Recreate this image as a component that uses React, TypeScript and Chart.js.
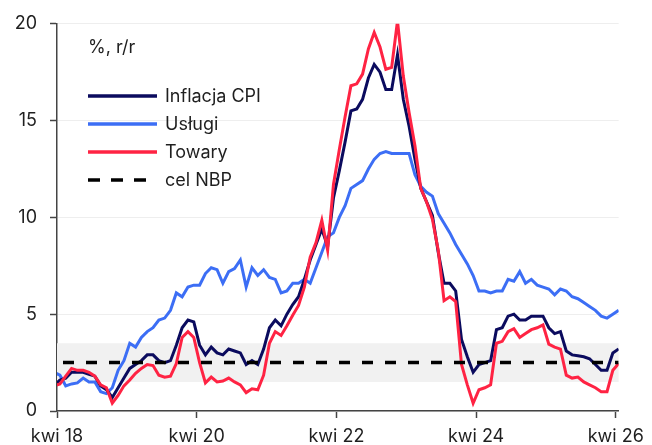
import React, { useEffect, useRef } from 'react';
import { Chart, registerables } from 'chart.js';

Chart.register(...registerables);

// ---- data (monthly, y/y %, from March 2018 to April 2026; each month plotted mid-month) ----
const START_YEAR = 2018;
const START_MONTH = 2; // March, 0-based
const AXIS_START_OFFSET = 1; // axis starts at April 2018
const monthNames = ['sty', 'lut', 'mar', 'kwi', 'maj', 'cze', 'lip', 'sie', 'wrz', 'paź', 'lis', 'gru'];

const cpi = [
  1.3,
  1.6, 1.7, 2.0, 2.0, 2.0, 1.9, 1.8, 1.3, 1.1,
  0.7, 1.2, 1.7, 2.2, 2.4, 2.6, 2.9, 2.9, 2.6, 2.5, 2.6, 3.4,
  4.3, 4.7, 4.6, 3.4, 2.9, 3.3, 3.0, 2.9, 3.2, 3.1, 3.0, 2.4,
  2.6, 2.4, 3.2, 4.3, 4.7, 4.4, 5.0, 5.5, 5.9, 6.8, 7.8, 8.6,
  9.4, 8.5, 11.0, 12.4, 13.9, 15.5, 15.6, 16.1, 17.2, 17.9, 17.5, 16.6,
  16.6, 18.4, 16.1, 14.7, 13.0, 11.5, 10.8, 10.1, 8.2, 6.6, 6.6, 6.2,
  3.7, 2.8, 2.0, 2.4, 2.5, 2.6, 4.2, 4.3, 4.9, 5.0, 4.7, 4.7,
  4.9, 4.9, 4.9, 4.3, 4.0, 4.1, 3.1, 2.9, 2.85, 2.8, 2.7, 2.4,
  2.1, 2.1, 3.0, 3.2,
];

const services = [
  2.0,
  1.85, 1.3, 1.4, 1.45, 1.7, 1.5, 1.5, 1.0, 0.9, 1.2, 2.1, 2.6,
  3.5, 3.3, 3.8, 4.1, 4.3, 4.7, 4.8, 5.2, 6.1, 5.9, 6.4, 6.5,
  6.5, 7.1, 7.4, 7.3, 6.6, 7.2, 7.35, 7.8, 6.4, 7.4, 7.0, 7.3,
  6.9, 6.8, 6.1, 6.2, 6.6, 6.6, 6.8, 6.6, 7.4, 8.2, 9.0, 9.2,
  10.0, 10.6, 11.5, 11.7, 11.9, 12.5, 13.0, 13.3, 13.4, 13.3, 13.3, 13.3,
  13.3, 12.2, 11.6, 11.3, 11.1, 10.2, 9.7, 9.2, 8.6, 8.1, 7.6, 7.0,
  6.2, 6.2, 6.1, 6.2, 6.2, 6.8, 6.7, 7.2, 6.6, 6.8, 6.5, 6.4,
  6.3, 6.0, 6.3, 6.2, 5.9, 5.8, 5.6, 5.4, 5.2, 4.9, 4.8, 5.0, 5.2,
];

const goods = [
  1.3,
  1.4, 1.8, 2.2, 2.1, 2.1, 2.0, 1.8, 1.35, 1.2, 0.4, 0.8, 1.3,
  1.6, 1.95, 2.2, 2.4, 2.35, 1.85, 1.75, 1.8, 2.45, 3.8, 4.1, 3.8,
  2.5, 1.45, 1.75, 1.5, 1.55, 1.7, 1.5, 1.35, 0.95, 1.15, 1.1, 1.85,
  3.5, 4.1, 3.9, 4.4, 4.95, 5.45, 6.4, 7.95, 8.7, 9.85, 8.3, 11.7,
  13.5, 15.2, 16.8, 16.9, 17.4, 18.7, 19.55, 18.8, 17.65, 17.75, 20.15, 17.3,
  15.4, 13.7, 11.5, 10.8, 9.9, 8.3, 5.7, 5.9, 5.65, 2.4, 1.35, 0.4,
  1.1, 1.2, 1.35, 3.5, 3.6, 4.1, 4.25, 3.8, 4.0, 4.2, 4.3, 4.45,
  3.45, 3.3, 3.2, 1.85, 1.7, 1.75, 1.5, 1.35, 1.2, 1.0, 1.0, 2.1, 2.45,
];

const nbpTarget = 2.5;
const bandLow = 1.5;
const bandHigh = 3.5;
const yMin = 0;
const yMax = 20;
const yStep = 5;
const xTickMonths = [0, 24, 48, 72, 96]; // months after April 2018
const xMax = 96.5;
const unitLabel = '%, r/r';
const seriesNames = ['Inflacja CPI', 'Usługi', 'Towary', 'cel NBP'];

// month position of each observation (mid-month), relative to April 2018
const xPos = cpi.map((_, i) => i - AXIS_START_OFFSET + 0.5);

const monthLabel = (m: number) => {
  const t = START_MONTH + AXIS_START_OFFSET + m;
  const y = START_YEAR + Math.floor(t / 12);
  return monthNames[t % 12] + ' ' + String(y % 100).padStart(2, '0');
};

const toPoints = (arr: number[]) => arr.map((v, i) => ({ x: xPos[i], y: v }));

const FONT = 'Inter';
const TEXT = '#1f1f1f';

const bandPlugin = {
  id: 'nbpBand',
  beforeDatasetsDraw(chart: any) {
    const { ctx, chartArea, scales } = chart;
    const y1 = scales.y.getPixelForValue(bandHigh);
    const y2 = scales.y.getPixelForValue(bandLow);
    ctx.save();
    ctx.fillStyle = '#f1f1f1';
    ctx.fillRect(chartArea.left, y1, chartArea.right - chartArea.left, y2 - y1);
    ctx.restore();
  },
};

const legendPlugin = {
  id: 'innerLegend',
  afterDraw(chart: any) {
    const { ctx } = chart;
    ctx.save();
    ctx.font = `18px ${FONT}`;
    ctx.fillStyle = TEXT;
    ctx.textBaseline = 'middle';
    ctx.textAlign = 'left';
    ctx.fillText(unitLabel, 88, 48);
    const x0 = 88;
    const x1 = 157;
    chart.data.datasets.forEach((ds: any, i: number) => {
      const y = 96 + i * 28;
      ctx.beginPath();
      ctx.strokeStyle = ds.borderColor;
      ctx.lineWidth = 3.5;
      ctx.setLineDash(ds.borderDash ? [12, 11] : []);
      ctx.lineDashOffset = 0;
      ctx.moveTo(x0, y);
      ctx.lineTo(x1, y);
      ctx.stroke();
      ctx.setLineDash([]);
      ctx.fillStyle = TEXT;
      ctx.fillText(ds.label, 165, y + 1);
    });
    ctx.restore();
  },
};

export default function App() {
  const ref = useRef<HTMLCanvasElement | null>(null);

  useEffect(() => {
    if (!ref.current) return;
    const chart = new Chart(ref.current, {
      type: 'line',
      data: {
        datasets: [
          {
            label: seriesNames[0],
            data: toPoints(cpi),
            borderColor: '#0b0b5e',
            borderWidth: 3,
            pointRadius: 0,
            order: 2,
          },
          {
            label: seriesNames[1],
            data: toPoints(services),
            borderColor: '#3c6ef5',
            borderWidth: 3,
            pointRadius: 0,
            order: 3,
          },
          {
            label: seriesNames[2],
            data: toPoints(goods),
            borderColor: '#ff2343',
            borderWidth: 3,
            pointRadius: 0,
            order: 1,
          },
          {
            label: seriesNames[3],
            data: [
              { x: 0, y: nbpTarget },
              { x: xMax, y: nbpTarget },
            ],
            borderColor: '#000000',
            borderWidth: 3.5,
            borderDash: [11, 12],
            borderDashOffset: 17,
            borderCapStyle: 'butt',
            pointRadius: 0,
            order: 0,
          },
        ] as any,
      },
      options: {
        responsive: false,
        animation: false,
        layout: { padding: { top: 23, right: 32, bottom: 0, left: 0 } },
        plugins: {
          legend: { display: false },
          tooltip: { enabled: false },
        },
        scales: {
          x: {
            type: 'linear',
            min: 0,
            max: xMax,
            grid: {
              drawOnChartArea: false,
              drawTicks: true,
              tickLength: 7,
              tickColor: '#444',
              tickWidth: 1.5,
            },
            border: { color: '#444', width: 1.5 },
            afterBuildTicks: (s: any) => {
              s.ticks = xTickMonths.map((v) => ({ value: v }));
            },
            ticks: {
              autoSkip: false,
              maxRotation: 0,
              minRotation: 0,
              padding: 8,
              color: TEXT,
              font: { family: FONT, size: 18 },
              callback: (v: any) => monthLabel(Number(v)),
            },
            afterFit: (s: any) => {
              s.height = 34;
            },
          },
          y: {
            min: yMin,
            max: yMax,
            grid: {
              color: '#eeeeee',
              lineWidth: 1,
              tickLength: 7,
              tickColor: '#444',
              tickWidth: 1.5,
            },
            border: { color: '#444', width: 1.5 },
            ticks: {
              stepSize: yStep,
              padding: 13,
              color: TEXT,
              font: { family: FONT, size: 18 },
            },
            afterFit: (s: any) => {
              s.width = 57;
            },
          },
        },
      },
      plugins: [bandPlugin, legendPlugin],
    });
    return () => chart.destroy();
  }, []);

  return (
    <div style={{ position: 'fixed', left: 0, top: 0, width: 652, height: 445, background: '#fff' }}>
      <canvas ref={ref} width={652} height={445} />
    </div>
  );
}
